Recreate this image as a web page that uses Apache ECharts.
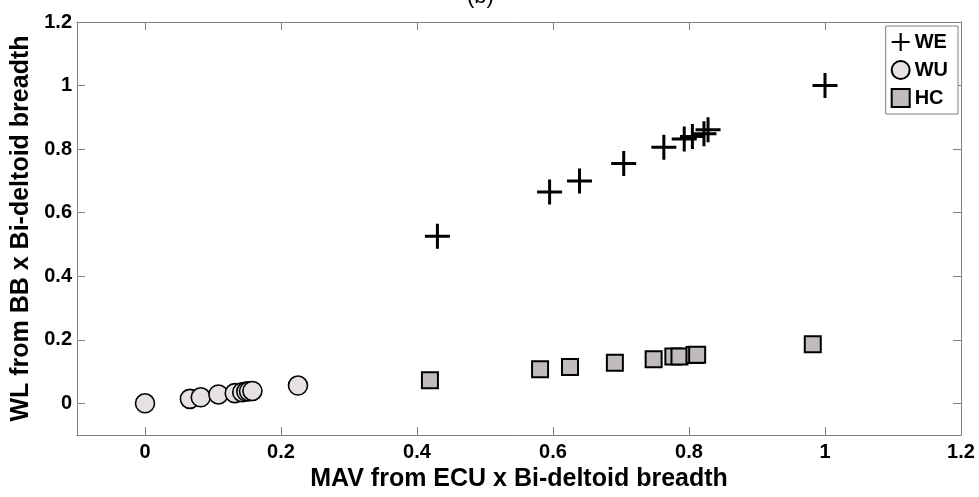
<!DOCTYPE html>
<html>
<head>
<meta charset="utf-8">
<script src="https://cdn.jsdelivr.net/npm/echarts@6/dist/echarts.min.js"></script>
<style>
html,body{margin:0;padding:0;background:#fff;}
#chart{width:979px;height:497px;}
</style>
</head>
<body>
<div id="chart"></div>
<script>
// ---- data ----
var seriesNames = ['WE', 'WU', 'HC'];
var weX = [0.430, 0.595, 0.639, 0.704, 0.763, 0.793, 0.805, 0.822, 0.828, 1.000];
var weY = [0.526, 0.665, 0.700, 0.755, 0.806, 0.832, 0.840, 0.848, 0.861, 1.000];
var wuX = [0.000, 0.066, 0.082, 0.108, 0.132, 0.143, 0.149, 0.153, 0.158, 0.225];
var wuY = [0.000, 0.014, 0.019, 0.028, 0.032, 0.035, 0.037, 0.038, 0.039, 0.056];
var hcX = [0.419, 0.581, 0.625, 0.691, 0.748, 0.777, 0.786, 0.808, 0.812, 0.982];
var hcY = [0.073, 0.107, 0.114, 0.128, 0.139, 0.147, 0.147, 0.152, 0.153, 0.186];
var xTickLabels = ['0', '0.2', '0.4', '0.6', '0.8', '1', '1.2'];
var yTickLabels = ['0', '0.2', '0.4', '0.6', '0.8', '1', '1.2'];
var xTitle = 'MAV from ECU x Bi-deltoid breadth';
var yTitle = 'WL from BB x Bi-deltoid breadth';
var titleText = '(b)';

function pairs(xs, ys) { return xs.map(function (x, i) { return [x, ys[i]]; }); }

var FONT = '"Liberation Sans", Arial, sans-serif';
var AXIS_COLOR = '#808080';
var CROSS = 'path://M44,0H56V44H100V56H56V100H44V56H0V44H44Z';

function tickFmt(list) {
  return function (v) {
    var s = String(Math.round(v * 10) / 10);
    return list.indexOf(s) >= 0 ? s : '';
  };
}

function mainAxis(pos, name, labels, gap, rot) {
  return {
    type: 'value', position: pos, min: -0.1, max: 1.2,
    minInterval: 0.2, maxInterval: 0.2, splitNumber: 6,
    name: name, nameLocation: 'middle', nameGap: gap, nameRotate: rot,
    nameTextStyle: { fontFamily: FONT, fontWeight: 'bold', fontSize: 25, color: '#000' },
    axisLine: { show: true, onZero: false, lineStyle: { color: AXIS_COLOR, width: 1 } },
    axisTick: { show: true, inside: true, length: 8, lineStyle: { color: AXIS_COLOR, width: 1 } },
    axisLabel: { show: true, showMinLabel: false, margin: pos === 'left' ? 5 : 7,
      fontFamily: FONT, fontWeight: 'bold', fontSize: 20, color: '#000', formatter: tickFmt(labels) },
    splitLine: { show: false }
  };
}
function mirrorAxis(pos) {
  return {
    type: 'value', position: pos, min: -0.1, max: 1.2,
    minInterval: 0.2, maxInterval: 0.2, splitNumber: 6,
    axisLine: { show: true, onZero: false, lineStyle: { color: AXIS_COLOR, width: 1 } },
    axisTick: { show: true, inside: true, length: 8, lineStyle: { color: AXIS_COLOR, width: 1 } },
    axisLabel: { show: false },
    splitLine: { show: false }
  };
}

var chart = echarts.init(document.getElementById('chart'), null, { renderer: 'canvas' });
chart.setOption({
  backgroundColor: '#ffffff',
  animation: false,
  title: {
    text: titleText, left: 462, top: -19,
    textStyle: { fontFamily: FONT, fontWeight: 'normal', fontSize: 22, color: '#000' }
  },
  grid: { left: 77, right: 18, top: 22, bottom: 51, containLabel: false },
  xAxis: [mainAxis('bottom', xTitle, xTickLabels, 28, 0), mirrorAxis('top')],
  yAxis: [mainAxis('left', yTitle, yTickLabels, 37, 90), mirrorAxis('right')],
  legend: {
    orient: 'vertical', right: 21, top: 26,
    backgroundColor: '#ffffff', borderColor: AXIS_COLOR, borderWidth: 1,
    padding: [6, 10, 6, 5], itemGap: 8, itemWidth: 18, itemHeight: 18, itemTextGap: 6,
    textStyle: { fontFamily: FONT, fontWeight: 'bold', fontSize: 20, color: '#000', lineHeight: 20 },
    data: [
      { name: seriesNames[0], icon: CROSS },
      { name: seriesNames[1], icon: 'circle' },
      { name: seriesNames[2], icon: 'rect' }
    ]
  },
  series: [
    {
      name: seriesNames[0], type: 'scatter', xAxisIndex: 0, yAxisIndex: 0,
      symbol: CROSS, symbolSize: 25,
      itemStyle: { color: '#000', borderWidth: 0, opacity: 1 },
      data: pairs(weX, weY)
    },
    {
      name: seriesNames[1], type: 'scatter', xAxisIndex: 0, yAxisIndex: 0,
      symbol: 'circle', symbolSize: 19,
      itemStyle: { color: '#e6e2e2', borderColor: '#000', borderWidth: 1.6, opacity: 1 },
      data: pairs(wuX, wuY)
    },
    {
      name: seriesNames[2], type: 'scatter', xAxisIndex: 0, yAxisIndex: 0,
      symbol: 'rect', symbolSize: 16,
      itemStyle: { color: '#c0bcbc', borderColor: '#000', borderWidth: 2, opacity: 1 },
      data: pairs(hcX, hcY)
    }
  ]
});
</script>
</body>
</html>
